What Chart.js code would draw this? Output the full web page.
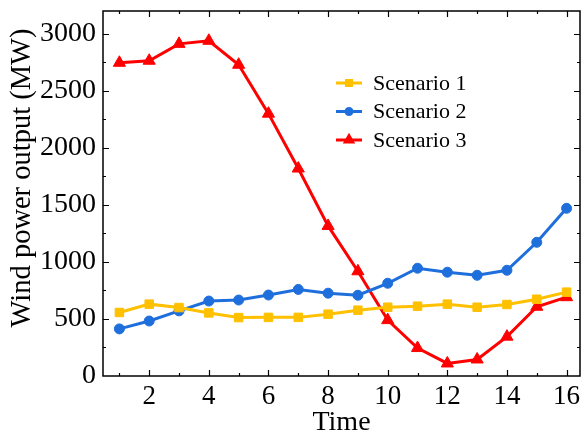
<!DOCTYPE html>
<html>
<head>
<meta charset="utf-8">
<script src="https://cdn.jsdelivr.net/npm/chart.js@4/dist/chart.umd.min.js"></script>
<style>
  html, body { margin: 0; padding: 0; background: #fff; }
  #wrap { width: 588px; height: 439px; }
</style>
</head>
<body>
<div id="wrap"><canvas id="chart" width="588" height="439"></canvas></div>
<script>
// ---- data ----
const timeSteps = [1, 2, 3, 4, 5, 6, 7, 8, 9, 10, 11, 12, 13, 14, 15, 16];
const scenario1 = [557, 630, 600, 553, 512, 514, 514, 542, 577, 603, 612, 630, 603, 627, 673, 735];
const scenario2 = [413, 482, 571, 657, 666, 710, 759, 726, 708, 813, 945, 910, 883, 927, 1172, 1470];
const scenario3 = [2746, 2764, 2912, 2939, 2729, 2300, 1819, 1316, 918, 490, 245, 110, 145, 345, 607, 691];
const seriesNames = ['Scenario 1', 'Scenario 2', 'Scenario 3'];
const xTickLabels = [2, 4, 6, 8, 10, 12, 14, 16];
const yTickLabels = [0, 500, 1000, 1500, 2000, 2500, 3000];
const yTitle = 'Wind power output (MW)';

const FONT = "'Liberation Serif', 'Times New Roman', serif";

function points(values) {
  return values.map((v, i) => ({ x: timeSteps[i], y: v }));
}

// frame with inward ticks on all four sides
const frameTicks = {
  id: 'frameTicks',
  afterDraw(chart) {
    const { ctx, chartArea: a, scales: { x, y } } = chart;
    ctx.save();
    ctx.strokeStyle = '#000';
    ctx.lineWidth = 1.5;
    ctx.strokeRect(a.left, a.top, a.right - a.left, a.bottom - a.top);
    ctx.lineWidth = 1.2;
    ctx.beginPath();
    for (let v = 1; v <= 16; v++) {
      const px = Math.round(x.getPixelForValue(v)) + 0.5;
      const len = v % 2 === 0 ? 6 : 3;
      ctx.moveTo(px, a.bottom); ctx.lineTo(px, a.bottom - len);
      ctx.moveTo(px, a.top); ctx.lineTo(px, a.top + len);
    }
    for (let v = 250; v <= 3000; v += 250) {
      const py = Math.round(y.getPixelForValue(v)) + 0.5;
      const len = v % 500 === 0 ? 6 : 3;
      ctx.moveTo(a.left, py); ctx.lineTo(a.left + len, py);
      ctx.moveTo(a.right, py); ctx.lineTo(a.right - len, py);
    }
    ctx.stroke();

    // y axis title, sits a little above the plot centre in the original
    ctx.fillStyle = '#000';
    ctx.font = '28.5px ' + FONT;
    ctx.textAlign = 'center';
    ctx.textBaseline = 'middle';
    ctx.translate(22.5, 178);
    ctx.rotate(-Math.PI / 2);
    ctx.fillText(yTitle, 0, 0);
    ctx.restore();
  }
};

// legend inside the plot, drawn from the dataset styles
const insideLegend = {
  id: 'insideLegend',
  afterDraw(chart) {
    const { ctx } = chart;
    const x0 = 336, y0 = 83, row = 28.5, lineLen = 26;
    ctx.save();
    chart.data.datasets.forEach((ds, i) => {
      const cy = y0 + i * row;
      ctx.strokeStyle = ds.borderColor;
      ctx.lineWidth = ds.borderWidth;
      ctx.beginPath();
      ctx.moveTo(x0, cy); ctx.lineTo(x0 + lineLen, cy);
      ctx.stroke();
      ctx.fillStyle = ds.pointBackgroundColor;
      ctx.strokeStyle = ds.pointBorderColor;
      Chart.helpers.drawPoint(ctx, {
        pointStyle: ds.pointStyle,
        radius: ds.pointRadius * 0.6,
        borderWidth: 1,
        rotation: 0
      }, x0 + lineLen / 2, cy);
      ctx.fillStyle = '#000';
      ctx.font = '22px ' + FONT;
      ctx.textBaseline = 'middle';
      ctx.textAlign = 'left';
      ctx.fillText(ds.label, x0 + lineLen + 11, cy + 1);
    });
    ctx.restore();
  }
};

function makeSeries(label, values, color, style, radius) {
  return {
    label,
    data: points(values),
    borderColor: color,
    backgroundColor: color,
    pointBackgroundColor: color,
    pointBorderColor: color,
    borderWidth: 3,
    pointStyle: style,
    pointRadius: radius,
    pointBorderWidth: 1,
    tension: 0,
  };
}

const ctx = document.getElementById('chart').getContext('2d');
new Chart(ctx, {
  type: 'line',
  data: {
    datasets: [
      makeSeries(seriesNames[0], scenario1, '#FFC000', 'rect', 6),
      makeSeries(seriesNames[1], scenario2, '#1E6FDC', 'circle', 5),
      makeSeries(seriesNames[2], scenario3, '#FF0000', 'triangle', 7),
    ],
  },
  options: {
    responsive: false,
    animation: false,
    devicePixelRatio: 1,
    layout: { padding: { left: 0, top: 11, right: 3, bottom: 0 } },
    plugins: {
      legend: { display: false },
      tooltip: { enabled: false },
    },
    scales: {
      x: {
        type: 'linear',
        min: 0.45,
        max: 16.45,
        afterBuildTicks: (s) => { s.ticks = xTickLabels.map(v => ({ value: v })); },
        afterFit: (s) => {
          s.height = 63;
          s.paddingLeft = 0; s.paddingRight = 0;
        },
        grid: { display: false, drawTicks: false },
        border: { display: false },
        ticks: {
          color: '#000',
          font: { family: FONT, size: 27 },
          padding: 5,
          maxRotation: 0,
          autoSkip: false,
          callback: (v) => String(v),
        },
        title: {
          display: true,
          text: 'Time',
          color: '#000',
          font: { family: FONT, size: 28 },
          padding: { top: 2, bottom: 0 },
        },
      },
      y: {
        type: 'linear',
        min: 0,
        max: 3200,
        afterBuildTicks: (s) => { s.ticks = yTickLabels.map(v => ({ value: v })); },
        afterFit: (s) => {
          s.width = 103;
          s.paddingTop = 0; s.paddingBottom = 0;
        },
        grid: { display: false, drawTicks: false },
        border: { display: false },
        ticks: {
          color: '#000',
          font: { family: FONT, size: 28 },
          padding: 7,
          autoSkip: false,
          callback: (v) => String(v),
        },
        title: { display: false },
      },
    },
  },
  plugins: [frameTicks, insideLegend],
});
</script>
</body>
</html>
